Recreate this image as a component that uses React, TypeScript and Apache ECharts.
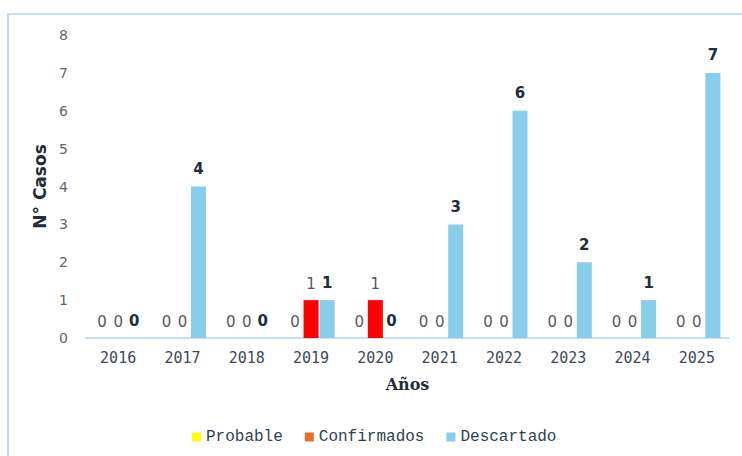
import React, { useEffect, useRef } from "react";
import * as echarts from "echarts";

const years = ["2016", "2017", "2018", "2019", "2020", "2021", "2022", "2023", "2024", "2025"];
const probable = [0, 0, 0, 0, 0, 0, 0, 0, 0, 0];
const confirmados = [0, 0, 0, 1, 1, 0, 0, 0, 0, 0];
const descartado = [0, 4, 0, 1, 0, 3, 6, 2, 1, 7];
const yTicks = [0, 1, 2, 3, 4, 5, 6, 7, 8];

export default function App() {
  const ref = useRef<HTMLDivElement>(null);
  useEffect(() => {
    if (!ref.current) return;
    const chart = echarts.init(ref.current, null, { renderer: "svg" });
    const regLabel = {
      show: true,
      position: "top",
      distance: 9,
      fontFamily: "DejaVu Sans",
      fontSize: 15,
      color: "#595959",
    };
    chart.setOption({
      animation: false,
      backgroundColor: "#ffffff",
      graphic: [
        {
          type: "rect",
          shape: { x: 8, y: 14, width: 800, height: 500 },
          style: { fill: "none", stroke: "#c9dcf0", lineWidth: 2 },
          silent: true,
        },
      ],
      grid: { left: 86, right: 13, top: 35, bottom: 118 },
      legend: {
        left: 187,
        top: 424,
        itemWidth: 9,
        itemHeight: 9,
        itemGap: 22,
        icon: "rect",
        textStyle: { fontFamily: "'Liberation Mono', 'Courier New', monospace", fontSize: 16, color: "#2f3f50" },
        data: ["Probable", "Confirmados", "Descartado"],
      },
      xAxis: {
        type: "category",
        data: years,
        name: "Años",
        nameLocation: "middle",
        nameGap: 38,
        nameTextStyle: {
          fontFamily: "'DejaVu Serif', serif",
          fontWeight: "bold",
          fontSize: 16,
          color: "#1f2d3d",
        },
        axisLine: { lineStyle: { color: "#c9dcf0", width: 2 } },
        axisTick: { show: false },
        axisLabel: { margin: 12, fontFamily: "DejaVu Sans Mono", fontSize: 15, color: "#3d4a5c" },
      },
      yAxis: {
        type: "value",
        min: yTicks[0],
        max: yTicks[yTicks.length - 1],
        interval: 1,
        name: "N° Casos",
        nameLocation: "middle",
        nameGap: 36,
        nameTextStyle: { fontFamily: "DejaVu Sans", fontWeight: "bold", fontSize: 17, color: "#1f2d3d" },
        axisLine: { show: false },
        axisTick: { show: false },
        splitLine: { show: false },
        axisLabel: { margin: 18, fontFamily: "DejaVu Sans", fontSize: 14, color: "#666666" },
      },
      series: [
        {
          name: "Probable",
          type: "bar",
          data: probable,
          barWidth: 15,
          barGap: "7%",
          barCategoryGap: "27%",
          itemStyle: { color: "#ffff00" },
          label: regLabel,
        },
        {
          name: "Confirmados",
          type: "bar",
          data: confirmados.map((v) => ({ value: v, itemStyle: { color: "#ff0000" } })),
          barWidth: 15,
          barGap: "7%",
          itemStyle: { color: "#ed6b2a" },
          label: regLabel,
        },
        {
          name: "Descartado",
          type: "bar",
          data: descartado,
          barWidth: 15,
          barGap: "7%",
          itemStyle: { color: "#87ceeb" },
          label: {
            show: true,
            position: "top",
            distance: 10,
            fontFamily: "DejaVu Sans",
            fontWeight: "bold",
            fontSize: 15,
            color: "#1f2d3d",
          },
        },
      ],
    });
    return () => chart.dispose();
  }, []);
  return <div ref={ref} style={{ position: "absolute", left: 0, top: 0, width: 742, height: 456 }} />;
}
